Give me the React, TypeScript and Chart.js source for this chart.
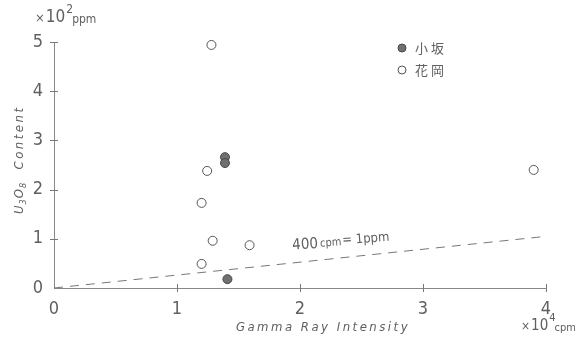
import React, { useEffect, useRef } from "react";
import { Chart, registerables } from "chart.js";

Chart.register(...registerables);

// ---- data ----
const xTickValues = [0, 1, 2, 3, 4];
const yTickValues = [0, 1, 2, 3, 4, 5];
const seriesNames = ["小坂", "花岡"];
const kosakaX = [1.39, 1.39, 1.41];
const kosakaY = [2.66, 2.54, 0.18];
const hanaokaX = [1.28, 1.245, 1.2, 1.29, 1.59, 1.2, 3.9];
const hanaokaY = [4.94, 2.38, 1.73, 0.96, 0.87, 0.49, 2.4];
const refLineX = [0, 4];
const refLineY = [0, 1.05];
const refLineLabel = ["400", "cpm", "= 1ppm"];
const xTitle = "Gamma Ray Intensity";
const yTitle = ["U", "3", "O", "8", "  Content"];
const yUnit = ["×", "10", "2", "ppm"];
const xUnit = ["×", "10", "4", "cpm"];

const FONT = '"DejaVu Sans Condensed", "DejaVu Sans", sans-serif';
const CJK = '"Noto Sans CJK JP", "Noto Sans CJK SC", sans-serif';
const INK = "#606060";

const toPts = (xs: number[], ys: number[]) => xs.map((x, i) => ({ x, y: ys[i] }));

const decorPlugin = {
  id: "decor",
  afterDraw(chart: any) {
    const ctx = chart.ctx as CanvasRenderingContext2D;
    const xs = chart.scales.x;
    const ys = chart.scales.y;
    ctx.save();
    ctx.strokeStyle = "#777";
    ctx.lineWidth = 1;
    // cross tick marks
    const x0 = xs.getPixelForValue(0);
    const y0 = ys.getPixelForValue(0);
    yTickValues.slice(1).forEach((v) => {
      const py = Math.round(ys.getPixelForValue(v)) + 0.5;
      ctx.beginPath();
      ctx.moveTo(x0 - 4, py);
      ctx.lineTo(x0 + 4, py);
      ctx.stroke();
    });
    xTickValues.slice(1).forEach((v) => {
      const px = Math.round(xs.getPixelForValue(v)) + 0.5;
      ctx.beginPath();
      ctx.moveTo(px, y0 - 4);
      ctx.lineTo(px, y0 + 4);
      ctx.stroke();
    });

    ctx.fillStyle = INK;
    // x axis title
    (ctx as any).letterSpacing = "2.5px";
    ctx.font = `italic 13px ${FONT}`;
    ctx.textAlign = "center";
    ctx.textBaseline = "middle";
    ctx.fillText(xTitle, 323, 328);

    // y axis title (U3O8 with subscripts)
    ctx.save();
    ctx.translate(18, 214);
    ctx.rotate(-Math.PI / 2);
    ctx.textAlign = "left";
    ctx.textBaseline = "alphabetic";
    let tx = 0;
    yTitle.forEach((part, i) => {
      const sub = i === 1 || i === 3;
      (ctx as any).letterSpacing = sub ? "0px" : i === 4 ? "2.5px" : "0px";
      ctx.font = sub ? `italic 9px ${FONT}` : `italic 13px ${FONT}`;
      ctx.fillText(part, tx, sub ? 8 : 5);
      tx += ctx.measureText(part).width + 1;
    });
    ctx.restore();
    (ctx as any).letterSpacing = "0px";

    // unit labels
    const drawUnit = (parts: string[], x: number, y: number, big: number, small: number) => {
      ctx.textAlign = "left";
      ctx.textBaseline = "alphabetic";
      let cx = x;
      ctx.font = `${small + 1}px ${FONT}`;
      ctx.fillText(parts[0], cx, y);
      cx += ctx.measureText(parts[0]).width + 1;
      ctx.font = `${big}px ${FONT}`;
      ctx.fillText(parts[1], cx, y);
      cx += ctx.measureText(parts[1]).width + 1;
      ctx.font = `${small}px ${FONT}`;
      ctx.fillText(parts[2], cx, y - 9);
      cx += ctx.measureText(parts[2]).width - 1;
      ctx.font = `${small}px ${FONT}`;
      ctx.fillText(parts[3], cx, y + 1);
    };
    drawUnit(yUnit, 35, 22, 17, 12);
    drawUnit(xUnit, 521, 330, 15, 11);

    // reference-line label
    ctx.save();
    const lx = xs.getPixelForValue(1.94);
    const ly = ys.getPixelForValue(0.78);
    ctx.translate(lx, ly);
    ctx.rotate(-0.07);
    ctx.textAlign = "left";
    ctx.textBaseline = "alphabetic";
    let cx = 0;
    ctx.font = `15px ${FONT}`;
    ctx.fillText(refLineLabel[0], cx, 0);
    cx += ctx.measureText(refLineLabel[0]).width + 2;
    ctx.font = `11px ${FONT}`;
    ctx.fillText(refLineLabel[1], cx, -1);
    cx += ctx.measureText(refLineLabel[1]).width + 1;
    ctx.font = `13px ${FONT}`;
    ctx.fillText(refLineLabel[2], cx, -2);
    ctx.restore();

    // legend
    const ds = chart.data.datasets;
    [0, 1].forEach((i) => {
      const cy = 48 + i * 22;
      ctx.beginPath();
      ctx.arc(402, cy, 4, 0, Math.PI * 2);
      ctx.fillStyle = ds[i].backgroundColor;
      ctx.fill();
      ctx.strokeStyle = ds[i].borderColor;
      ctx.stroke();
      ctx.fillStyle = INK;
      (ctx as any).letterSpacing = "3px";
      ctx.font = `13px ${CJK}`;
      ctx.textAlign = "left";
      ctx.textBaseline = "middle";
      ctx.fillText(ds[i].label, 415, cy);
      (ctx as any).letterSpacing = "0px";
    });
    ctx.restore();
  },
};

export default function App() {
  const ref = useRef<HTMLCanvasElement | null>(null);
  useEffect(() => {
    if (!ref.current) return;
    const chart = new Chart(ref.current, {
      type: "scatter",
      data: {
        datasets: [
          {
            label: seriesNames[0],
            data: toPts(kosakaX, kosakaY),
            backgroundColor: "#707070",
            borderColor: "#484848",
            borderWidth: 1,
            pointRadius: 4.5,
            pointHoverRadius: 4.5,
          },
          {
            label: seriesNames[1],
            data: toPts(hanaokaX, hanaokaY),
            backgroundColor: "#ffffff",
            borderColor: "#555555",
            borderWidth: 1,
            pointRadius: 4.5,
            pointHoverRadius: 4.5,
          },
          {
            label: "400cpm=1ppm",
            type: "line",
            data: toPts(refLineX, refLineY),
            borderColor: "#777777",
            borderWidth: 1,
            borderDash: [9, 7],
            pointRadius: 0,
            fill: false,
          } as any,
        ],
      },
      options: {
        animation: false,
        responsive: false,
        maintainAspectRatio: false,
        devicePixelRatio: 1,
        clip: false as any,
        layout: { padding: { left: 0, top: 42, right: 29, bottom: 0 } },
        plugins: {
          legend: { display: false },
          tooltip: { enabled: false },
        },
        scales: {
          x: {
            type: "linear",
            min: 0,
            max: 4,
            afterFit: (s: any) => {
              s.height = 52;
            },
            afterBuildTicks: (s: any) => {
              s.ticks = xTickValues.map((v) => ({ value: v }));
            },
            grid: { display: false, drawTicks: false },
            border: { display: true, color: "#888", width: 1 },
            ticks: {
              padding: 11,
              color: INK,
              font: { family: FONT, size: 18 },
              maxRotation: 0,
            },
          },
          y: {
            type: "linear",
            min: 0,
            max: 5,
            afterFit: (s: any) => {
              s.width = 54;
            },
            afterBuildTicks: (s: any) => {
              s.ticks = yTickValues.map((v) => ({ value: v }));
            },
            grid: { display: false, drawTicks: false },
            border: { display: true, color: "#888", width: 1 },
            ticks: {
              padding: 11,
              color: INK,
              font: { family: FONT, size: 18 },
            },
          },
        },
      },
      plugins: [decorPlugin],
    });
    return () => chart.destroy();
  }, []);
  return (
    <div style={{ position: "fixed", left: 0, top: 0, width: 575, height: 340, background: "#fff" }}>
      <canvas ref={ref} width={575} height={340} style={{ width: 575, height: 340, display: "block" }} />
    </div>
  );
}
